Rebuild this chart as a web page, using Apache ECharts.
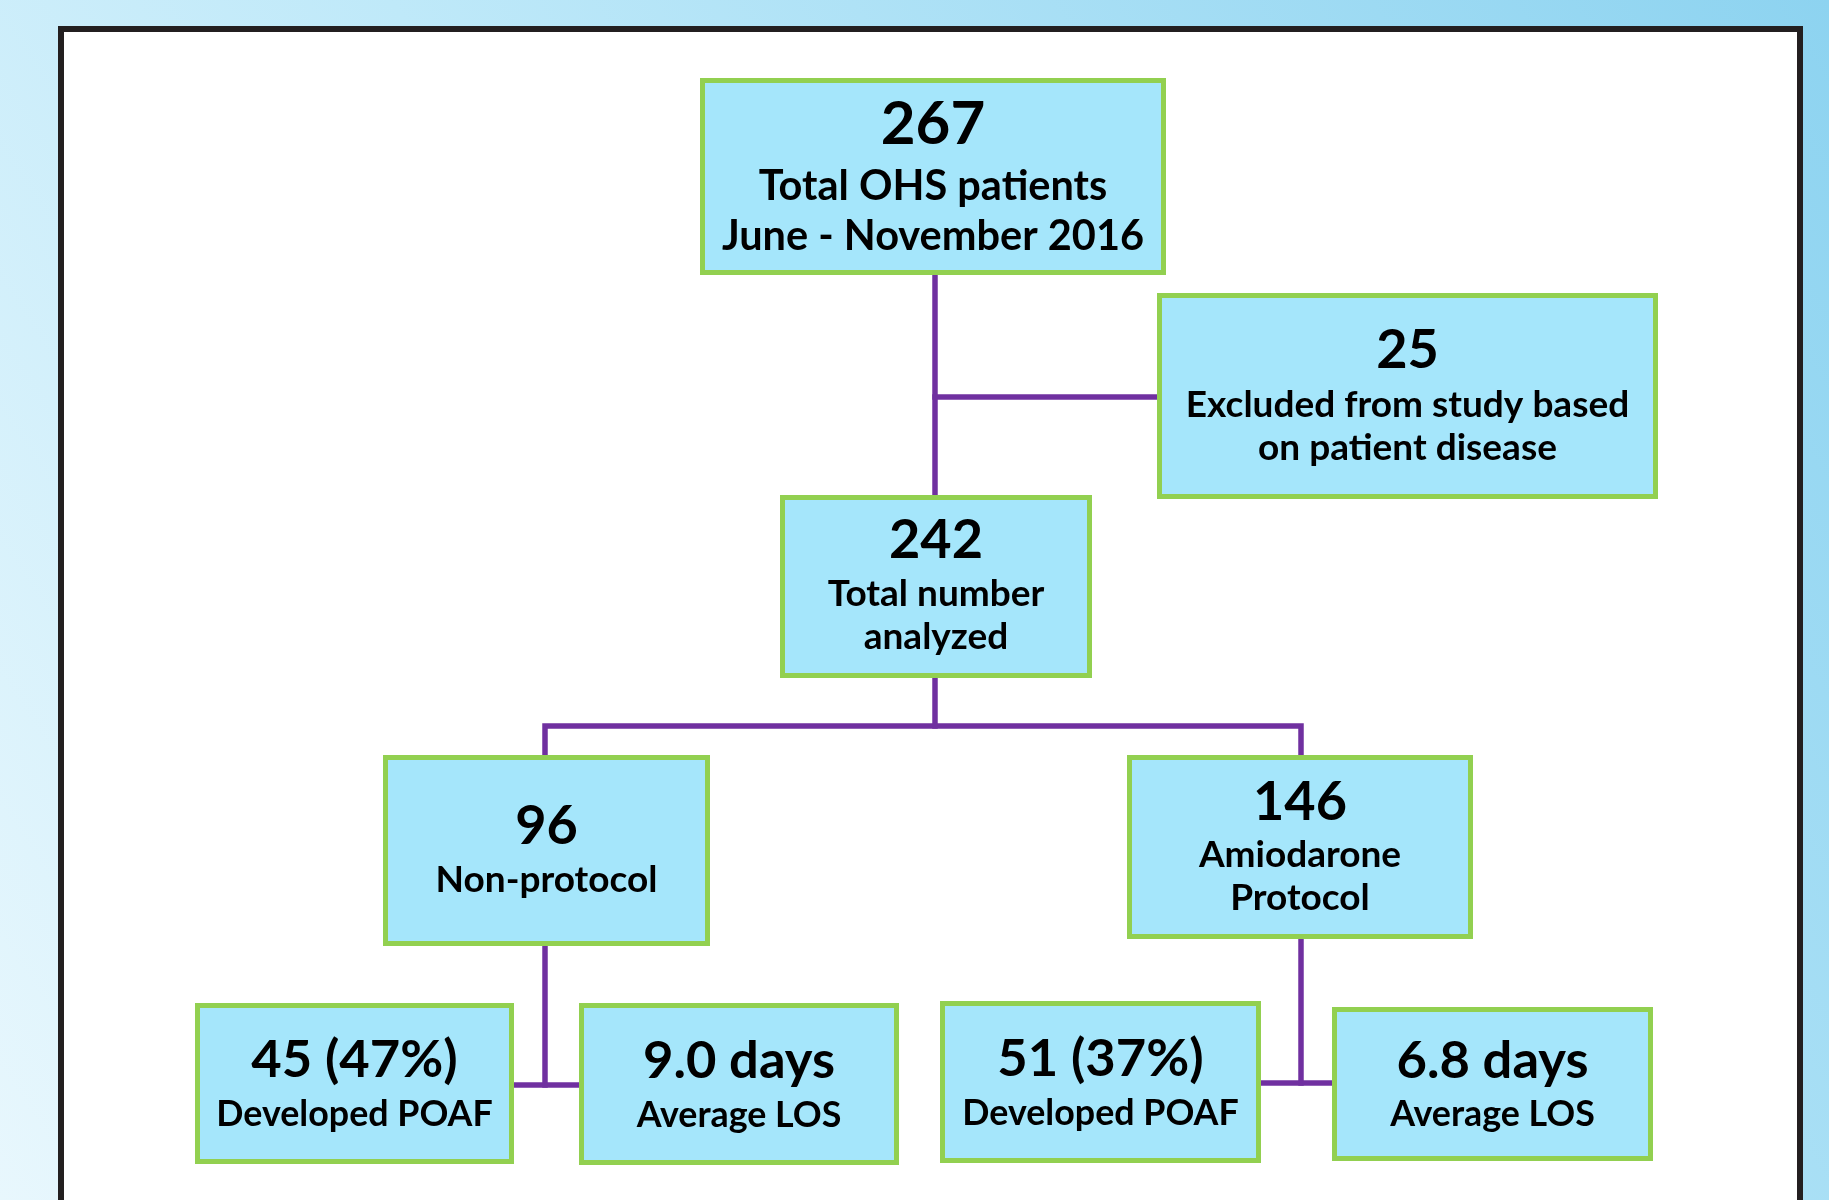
<!DOCTYPE html>
<html>
<head>
<meta charset="utf-8">
<script src="https://cdn.jsdelivr.net/npm/echarts@6/dist/echarts.min.js"></script>
<style>html,body{margin:0;padding:0;background:#fff}#chart{width:1829px;height:1200px}</style>
</head>
<body>
<div id="chart"></div>
<script>
// ---- data ----
const nodeValues = ['267', '25', '242', '96', '146', '45 (47%)', '9.0 days', '51 (37%)', '6.8 days'];
const nodeLabels = [
  ['Total OHS patients', 'June - November 2016'],
  ['Excluded from study based', 'on patient disease'],
  ['Total number', 'analyzed'],
  ['Non-protocol'],
  ['Amiodarone', 'Protocol'],
  ['Developed POAF'],
  ['Average LOS'],
  ['Developed POAF'],
  ['Average LOS']
];
// parent -> child links (indices into nodes)
const links = [[0, 2], [0, 1], [2, 3], [2, 4], [3, 5], [3, 6], [4, 7], [4, 8]];

// ---- layout (pixel-space coordinates on a hidden 1829x1200 axis) ----
const boxLayout = [
  {box: [700, 78, 1166, 275], vy: 125, vs: 60, ly: [187, 237], ls: 41.5},
  {box: [1157, 293, 1658, 499], vy: 351, vs: 54, ly: [405, 448], ls: 37},
  {box: [780, 495, 1092, 678], vy: 541, vs: 54, ly: [594, 637], ls: 37},
  {box: [383, 755, 710, 946], vy: 827, vs: 54, ly: [880], ls: 37},
  {box: [1127, 755, 1473, 939], vy: 803, vs: 54, ly: [855, 898], ls: 37},
  {box: [195, 1003, 514, 1164], vy: 1060, vs: 52.5, ly: [1114], ls: 35.8},
  {box: [579, 1003, 899, 1165], vy: 1061, vs: 52.5, ly: [1115], ls: 35.8},
  {box: [940, 1001, 1261, 1163], vy: 1059, vs: 52.5, ly: [1113], ls: 35.8},
  {box: [1332, 1007, 1653, 1161], vy: 1061, vs: 52.5, ly: [1114], ls: 35.8}
];
const connectorPaths = [
  [[935, 275], [935, 495]],
  [[935, 397], [1157, 397]],
  [[935, 678], [935, 726]],
  [[545, 755], [545, 726], [1301, 726], [1301, 755]],
  [[545, 946], [545, 1085]],
  [[514, 1085], [579, 1085]],
  [[1301, 939], [1301, 1083]],
  [[1261, 1083], [1332, 1083]]
];

const FONT = 'Lato';
const chart = echarts.init(document.getElementById('chart'), null, {renderer: 'canvas'});

const option = {
  animation: false,
  graphic: [
    {type: 'rect', z: -100, shape: {x: 0, y: 0, width: 1829, height: 1200},
     style: {fill: {type: 'linear', x: 0, y: 1, x2: 1, y2: 0,
       colorStops: [{offset: 0, color: '#e8f7fd'}, {offset: 0.45, color: '#bfe9f9'}, {offset: 1, color: '#8dd3f0'}]}}},
    {type: 'rect', z: -90, shape: {x: 61, y: 29, width: 1739, height: 1250},
     style: {fill: '#ffffff', stroke: '#231f20', lineWidth: 6}}
  ],
  grid: {left: 0, right: 0, top: 0, bottom: 0},
  xAxis: {type: 'value', min: 0, max: 1829, show: false},
  yAxis: {type: 'value', min: 0, max: 1200, inverse: true, show: false},
  series: [
    {
      type: 'lines',
      coordinateSystem: 'cartesian2d',
      polyline: true,
      z: 3,
      lineStyle: {color: '#7030a0', width: 5.5, opacity: 1, cap: 'square'},
      data: connectorPaths.map(p => ({coords: p}))
    },
    {
      type: 'custom',
      z: 5,
      data: nodeValues.map((v, i) => [i]),
      renderItem: function (params, api) {
        const i = api.value(0);
        const L = boxLayout[i];
        const p0 = api.coord([L.box[0], L.box[1]]);
        const p1 = api.coord([L.box[2], L.box[3]]);
        const cx = (p0[0] + p1[0]) / 2;
        const bw = 5;
        const children = [{
          type: 'rect',
          shape: {x: p0[0] + bw / 2, y: p0[1] + bw / 2, width: p1[0] - p0[0] - bw, height: p1[1] - p0[1] - bw},
          style: {fill: '#a5e6fb', stroke: '#92d050', lineWidth: bw}
        }, {
          type: 'text',
          style: {x: cx, y: api.coord([0, L.vy])[1], text: nodeValues[i], fill: '#000',
            font: 'bold ' + L.vs + 'px ' + FONT, align: 'center', verticalAlign: 'middle'}
        }];
        nodeLabels[i].forEach((t, k) => {
          children.push({
            type: 'text',
            style: {x: cx, y: api.coord([0, L.ly[k]])[1], text: t, fill: '#000',
              font: 'bold ' + L.ls + 'px ' + FONT, align: 'center', verticalAlign: 'middle'}
          });
        });
        return {type: 'group', children: children};
      }
    }
  ]
};
chart.setOption(option);
</script>
</body>
</html>
